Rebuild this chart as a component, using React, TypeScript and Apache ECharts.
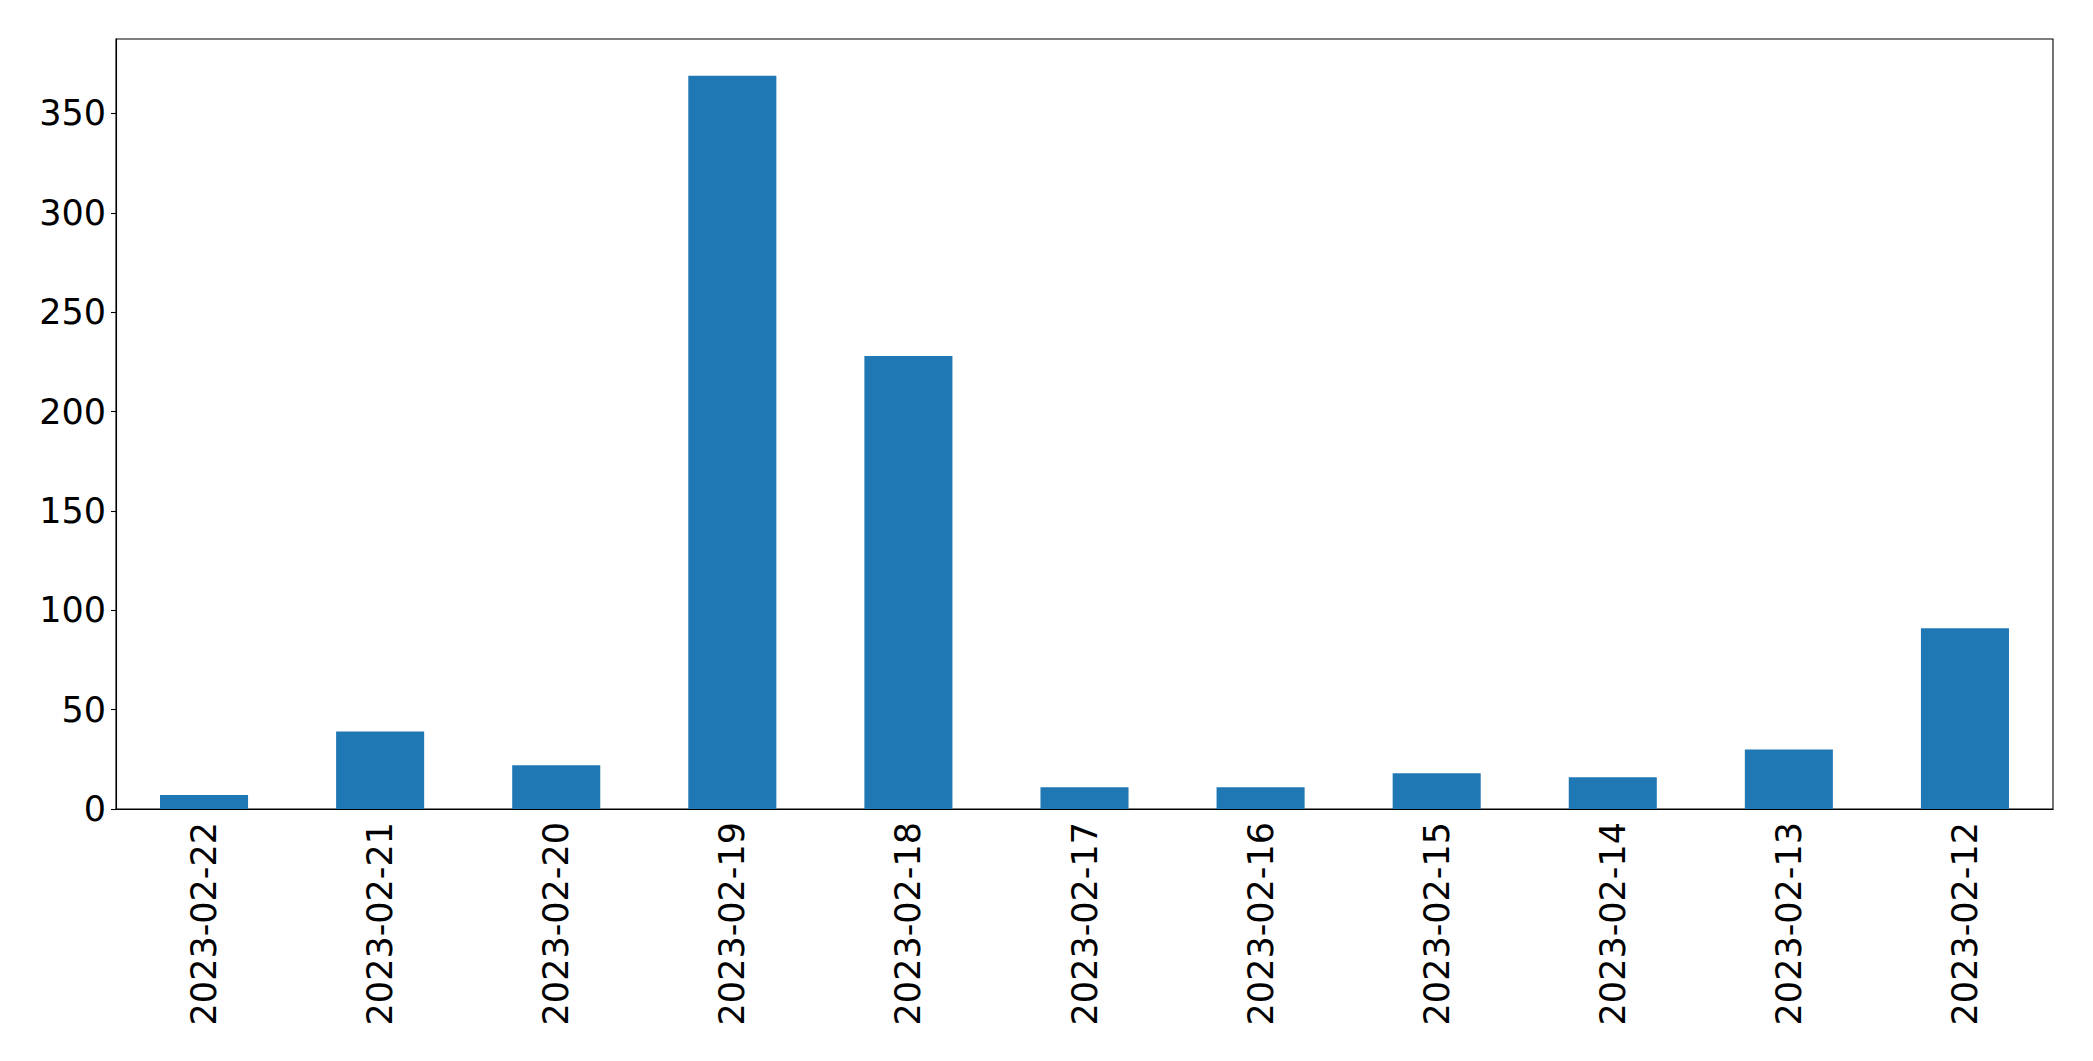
import React, { useEffect, useRef } from "react";
import * as echarts from "echarts";

const categories = [
  "2023-02-22", "2023-02-21", "2023-02-20", "2023-02-19", "2023-02-18", "2023-02-17",
  "2023-02-16", "2023-02-15", "2023-02-14", "2023-02-13", "2023-02-12",
];
const values = [7, 39, 22, 369, 228, 11, 11, 18, 16, 30, 91];
const yTicks = [0, 50, 100, 150, 200, 250, 300, 350];

export default function App() {
  const ref = useRef<HTMLDivElement>(null);
  useEffect(() => {
    if (!ref.current) return;
    const chart = echarts.init(ref.current, null, { renderer: "svg" });
    const maxV = Math.max(...values) * 1.05;
    const font = "'DejaVu Sans', sans-serif";
    chart.setOption({
      animation: false,
      backgroundColor: "#ffffff",
      grid: {
        left: 116, right: 40, top: 39, bottom: 252,
        show: true, borderColor: "#000000", borderWidth: 1.1, backgroundColor: "transparent",
      },
      xAxis: {
        type: "category",
        data: categories,
        boundaryGap: true,
        axisLine: { lineStyle: { color: "#000", width: 1.1 } },
        axisTick: { alignWithLabel: true, length: 5, lineStyle: { color: "#000", width: 1.1 } },
        axisLabel: {
          rotate: 90, fontSize: 35, color: "#000", fontFamily: font, margin: 13, interval: 0,
        },
        splitLine: { show: false },
      },
      yAxis: {
        type: "value",
        min: 0,
        max: maxV,
        interval: 50,
        axisLine: { show: true, lineStyle: { color: "#000", width: 1.1 } },
        axisTick: { show: true, length: 5, customValues: yTicks, lineStyle: { color: "#000", width: 1.1 } },
        axisLabel: { fontSize: 35, color: "#000", fontFamily: font, margin: 10, customValues: yTicks },
        splitLine: { show: false },
      },
      series: [
        {
          type: "bar",
          data: values,
          barWidth: "50%",
          itemStyle: { color: "#1f77b4" },
        },
      ],
    });
    return () => chart.dispose();
  }, []);
  return (
    <div
      ref={ref}
      style={{ position: "fixed", left: 0, top: 0, width: 2093, height: 1061, background: "#fff" }}
    />
  );
}
